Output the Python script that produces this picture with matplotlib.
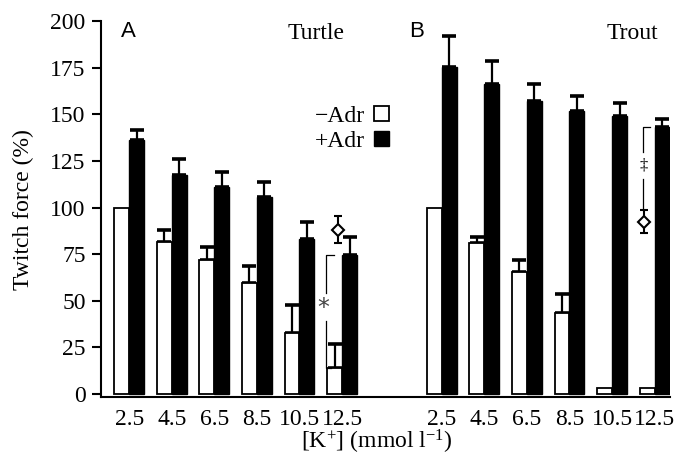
import numpy as np
import matplotlib
matplotlib.use('Agg')
import matplotlib.pyplot as plt

plt.rcParams['font.family'] = 'Liberation Serif'
plt.rcParams['mathtext.fontset'] = 'custom'
plt.rcParams['mathtext.rm'] = 'Liberation Serif'
plt.rcParams['mathtext.it'] = 'Liberation Serif:italic'

#~~~~~~~~~~~~~~~~~~~~~~~~~~ Data ~~~~~~~~~~~~~~~~~~~~~~~~~~#
k_conc = ['2.5', '4.5', '6.5', '8.5', '10.5', '12.5']

# Turtle (A)
turtle_minus = [100, 81.4, 72.1, 59.6, 33.0, 13.8]
turtle_minus_err = [0, 6.4, 7.0, 9.0, 15.0, 13.0]
turtle_plus = [136.4, 117.5, 111.2, 105.5, 83.0, 74.4]
turtle_plus_err = [5.4, 8.4, 8.0, 8.2, 9.5, 10.0]
turtle_recov = 88.2
turtle_recov_err = 7.0

# Trout (B)
trout_minus = [100, 81.0, 65.5, 43.5, 3.5, 3.0]
trout_minus_err = [0, 3.3, 6.3, 10.0, 0, 0]
trout_plus = [175.2, 166.4, 157.1, 151.9, 149.3, 143.4]
trout_plus_err = [16.6, 12.2, 9.0, 7.7, 6.8, 4.3]
trout_recov = 92.5
trout_recov_err = 6.3

#~~~~~~~~~~~~~~~~~~~~~~~~~~~~~~~~ Plot ~~~~~~~~~~~~~~~~~~~~~~~~~~~~~~~~#
fig = plt.figure(figsize=(6.78, 4.57), dpi=100)
ax = fig.add_axes([0.149, 0.1304, 0.8392, 0.8236])

w = 0.35
pos_a = np.arange(6)
pos_b = np.arange(6) + 7.34

err_kw = dict(fmt='none', ecolor='k', elinewidth=1.6, capsize=4.7, capthick=2.6, zorder=1)

for pos, mins, mins_err, plus, plus_err in [
        (pos_a, turtle_minus, turtle_minus_err, turtle_plus, turtle_plus_err),
        (pos_b, trout_minus, trout_minus_err, trout_plus, trout_plus_err)]:
    bw = ax.bar(pos - w / 2, mins, w, color='white', edgecolor='k', linewidth=1.3, zorder=2)
    bb = ax.bar(pos + w / 2, plus, w, color='k', edgecolor='k', linewidth=1.0, zorder=2)
    me = np.array(mins_err)
    m = me > 0
    ax.errorbar((pos - w / 2)[m], np.array(mins)[m], yerr=[np.zeros(m.sum()), me[m]], **err_kw)
    ax.errorbar(pos + w / 2, plus, yerr=[np.zeros(6), plus_err], **err_kw)

# recovery points (diamonds)
dia_kw = dict(fmt='D', mfc='white', mec='k', mew=1.5, ms=6, ecolor='k', elinewidth=1.5,
              capsize=2.6, capthick=2.2, zorder=3)
ax.errorbar([4.91], [turtle_recov], yerr=[turtle_recov_err], **dia_kw)
ax.errorbar([12.10], [trout_recov], yerr=[trout_recov_err], **dia_kw)

# significance brackets
lw_b = 0.9
xa = 4.62
ax.plot([4.81, xa, xa], [turtle_plus[5], turtle_plus[5], 54], color='k', lw=lw_b)
ax.plot([xa, xa, 4.75], [39, turtle_minus[5], turtle_minus[5]], color='k', lw=lw_b)
ax.text(4.55, 46, '*', fontsize=17, ha='center', va='center', color='#444444',
        family='DejaVu Sans')

xb = 12.07
ax.plot([12.24, xb, xb], [trout_plus[5], trout_plus[5], 130], color='k', lw=lw_b)
ax.plot([xb, xb], [115.5, trout_recov + trout_recov_err], color='k', lw=lw_b)
ax.text(xb, 122.5, '\u2021', fontsize=12, ha='center', va='center')

# panel letters and species
ax.text(-0.02, 194.5, 'A', fontsize=16, family='Liberation Sans', ha='center', va='center')
ax.text(6.75, 194.5, 'B', fontsize=16, family='Liberation Sans', ha='center', va='center')
ax.text(4.38, 193.5, 'Turtle', fontsize=17, ha='center', va='center')
ax.text(11.81, 193.5, 'Trout', fontsize=17, ha='center', va='center')

# legend
ax.legend([bw, bb], ['\u2212Adr', '+Adr'], markerfirst=False, frameon=False,
          loc='upper left', bbox_to_anchor=(0.355, 0.805), borderpad=0,
          handlelength=0.6, handleheight=0.6, handletextpad=0.4, labelspacing=0.15,
          fontsize=17)

ax.set_xlim(-0.66, 12.7)
ax.set_ylim(-1.8, 200)
ax.set_yticks(np.arange(0, 201, 25))
ax.set_xticks(np.concatenate([pos_a, pos_b]))
ax.set_xticklabels(k_conc * 2)
ax.tick_params(axis='x', length=0, pad=8, labelsize=17)
ax.tick_params(axis='y', direction='out', length=6.5, width=1.5, pad=4.5, labelsize=17)

ax.spines['top'].set_visible(False)
ax.spines['right'].set_visible(False)
ax.spines['left'].set_linewidth(1.5)
ax.spines['bottom'].set_linewidth(1.5)

ax.set_ylabel('Twitch force (%)', fontsize=17)
ax.yaxis.set_label_coords(-0.118, 0.5)
ax.set_xlabel('[K$^{+}$] (mmol l$^{-1}$)', fontsize=17)
ax.xaxis.set_label_coords(0.484, -0.08)

plt.savefig('out.png', dpi=100)
